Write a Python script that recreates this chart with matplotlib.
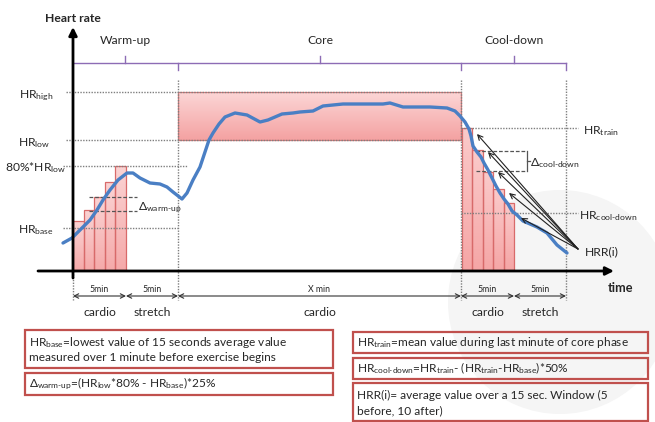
import matplotlib
matplotlib.use('Agg')
import matplotlib.pyplot as plt
import numpy as np
from matplotlib.patches import Rectangle, Circle
from matplotlib.colors import to_rgb

plt.rcParams['font.family'] = ['Lato', 'DejaVu Sans']
plt.rcParams['mathtext.fontset'] = 'custom'
plt.rcParams['mathtext.rm'] = 'Lato'
plt.rcParams['mathtext.it'] = 'Lato:italic'
plt.rcParams['mathtext.bf'] = 'Lato:bold'

# ---------------- data (schematic units, y grows downward) ----------------
curve_x = [63, 72, 80, 90, 97, 103, 110, 118, 127, 133, 140, 150, 160, 167, 173, 182,
           187, 193, 200, 205, 209, 213, 219, 225, 235, 247, 260, 268, 282, 293, 300,
           313, 323, 343, 383, 390, 403, 430, 447, 455, 460, 465, 469, 471, 473, 477,
           481, 484, 488, 492, 496, 500, 504, 508, 512, 517, 523, 530, 537, 542, 547,
           552, 557, 562, 567]
curve_y = [243, 238, 230, 220, 210, 200, 190, 180, 173, 173, 178, 183, 184, 187, 192, 199,
           193, 180, 167, 152, 140, 133, 124, 117, 113, 115, 122, 120, 114, 113, 112,
           111, 106, 104, 104, 103, 107, 107, 108, 111, 116, 122, 129, 136, 146, 152,
           157, 163, 170, 178, 186, 193, 199, 204, 211, 215, 221, 224, 227, 230, 233,
           239, 245, 249, 253]

hr_high, hr_low, hr_80low, hr_base = 92, 140, 166, 228
hr_train, hr_cooldown = 128, 213

t_start, t_wu_cardio, t_core, t_core_end, t_cd_cardio, t_end = 73, 126, 178, 461, 514, 566

warm_bar_tops = [221, 210, 197, 182, 166]
cool_bar_tops = [128, 150, 172, 189, 203]

delta_wu_levels = [197, 211]
delta_cd_levels = [151, 171]

hrr_x = [477, 488, 498, 509, 521]
hrr_y = [134, 152, 172, 193, 218]
hrr_origin = (578, 249)

phase_names = ['Warm-up', 'Core', 'Cool-down']
segment_labels = ['5min', '5min', 'X min', '5min', '5min']
segment_kinds = ['cardio', 'stretch', 'cardio', 'cardio', 'stretch']

# ---------------- figure ----------------
W, H = 655, 422
fig = plt.figure(figsize=(W / 100, H / 100), dpi=100)
ax = fig.add_axes([0, 0, 1, 1])
ax.set_xlim(0, W)
ax.set_ylim(H, 0)
ax.axis('off')

# faint watermark
ax.add_patch(Circle((560, 302), 112, color='#f5f5f5', zorder=0, lw=0))

TEXT = '#262626'
DOT = '#7f7f7f'
PURPLE = '#8d6cb5'
RED = '#c0504d'


def grad_patch(x0, x1, ytop, ybot, ctop, cbot, edge, lw=0.9, z=2):
    rect = Rectangle((x0, ytop), x1 - x0, ybot - ytop, facecolor='none',
                     edgecolor=edge, lw=lw, zorder=z + 0.1)
    ax.add_patch(rect)
    n = 64
    c0, c1 = np.array(to_rgb(ctop)), np.array(to_rgb(cbot))
    g = np.linspace(0, 1, n)[:, None]
    img = (c0[None, :] * (1 - g) + c1[None, :] * g)[:, None, :]
    im = ax.imshow(img, extent=(x0, x1, ybot, ytop), origin='upper',
                   aspect='auto', zorder=z, interpolation='bilinear')
    im.set_clip_path(rect)


# core rectangle
grad_patch(t_core, t_core_end, hr_high, hr_low, '#fcd6d6', '#f4a2a2', '#d87878', lw=0.9)

# warm-up bars
wu_edges = np.linspace(t_start, t_wu_cardio, len(warm_bar_tops) + 1)
for i, top in enumerate(warm_bar_tops):
    grad_patch(wu_edges[i], wu_edges[i + 1], top, 270, '#fbd3d3', '#f5aaaa', '#d86a6a')

# cool-down bars
cd_edges = np.linspace(t_core_end + 0.5, t_cd_cardio, len(cool_bar_tops) + 1)
for i, top in enumerate(cool_bar_tops):
    grad_patch(cd_edges[i], cd_edges[i + 1], top, 270, '#fbcaca', '#f5a6a6', '#d86a6a')

# dotted reference lines
dot = dict(color=DOT, lw=1.0, ls=(0, (1, 1)), zorder=3)
ax.plot([66, t_core_end], [hr_high, hr_high], **dot)
ax.plot([66, t_core_end], [hr_low, hr_low], **dot)
ax.plot([63, 188], [hr_80low, hr_80low], **dot)
ax.plot([63, t_core], [hr_base, hr_base], **dot)
ax.plot([t_core_end, 578], [hr_train, hr_train], **dot)
ax.plot([t_core_end, 578], [hr_cooldown, hr_cooldown], **dot)
ax.plot([t_start, t_start], [271, 300], **dot)
for xv in [t_core, t_core_end, t_end]:
    ax.plot([xv, xv], [80, 300], **dot)

# delta dashed lines
dash = dict(color='#555555', lw=0.9, ls=(0, (3, 1.5)), zorder=4)
for yv in delta_wu_levels:
    ax.plot([89, 137], [yv, yv], **dash)
for yv in delta_cd_levels:
    ax.plot([476, 527], [yv, yv], **dash)
ax.plot([527, 527], [delta_cd_levels[0], delta_cd_levels[1]],
        color='#555555', lw=0.9, zorder=4)
ax.plot([527, 530], [sum(delta_cd_levels) / 2] * 2, color='#555555', lw=0.9, zorder=4)

# heart-rate curve
ax.plot(curve_x, curve_y, color='#4a7fc4', lw=2.4, solid_capstyle='round',
        solid_joinstyle='round', zorder=6)

# HRR arrows
for tx, ty in zip(hrr_x, hrr_y):
    ax.annotate('', xy=(tx, ty), xytext=hrr_origin,
                arrowprops=dict(arrowstyle='->', lw=0.8, color='#222222',
                                mutation_scale=9, shrinkA=0, shrinkB=0), zorder=7)

# axes
ax.annotate('', xy=(73, 27), xytext=(73, 278),
            arrowprops=dict(arrowstyle='-|>', lw=2.0, color='black',
                            mutation_scale=12, shrinkA=0, shrinkB=0), zorder=8)
ax.annotate('', xy=(614, 271), xytext=(38, 271),
            arrowprops=dict(arrowstyle='-|>', lw=2.0, color='black',
                            mutation_scale=12, shrinkA=0, shrinkB=0), zorder=8)
ax.text(73, 18, 'Heart rate', ha='center', va='center', fontsize=8.7,
        fontweight='bold', color=TEXT)
ax.text(620, 288, 'time', ha='center', va='center', fontsize=9.2,
        fontweight='bold', color=TEXT)

# phase brace
ax.plot([t_start, t_end], [63, 63], color=PURPLE, lw=1.0, zorder=3)
for xv in [125, 320, 514]:
    ax.plot([xv, xv], [63, 56], color=PURPLE, lw=1.0, zorder=3)
for xv in [t_core, t_core_end, t_end]:
    ax.plot([xv, xv], [63, 70], color=PURPLE, lw=1.0, zorder=3)
for name, xc in zip(phase_names, [125, 320, 514]):
    ax.text(xc, 40, name, ha='center', va='center', fontsize=8.7, color=TEXT)

# left labels
ax.text(53, 96, r'HR$_{\text{high}}$', ha='right', va='center', fontsize=8.7, color=TEXT)
ax.text(50, 143, r'HR$_{\text{low}}$', ha='right', va='center', fontsize=8.7, color=TEXT)
ax.text(66, 168, r'80%*HR$_{\text{low}}$', ha='right', va='center', fontsize=8.7, color=TEXT)
ax.text(54, 230, r'HR$_{\text{base}}$', ha='right', va='center', fontsize=8.7, color=TEXT)

# right labels
ax.text(583, 131, r'HR$_{\text{train}}$', ha='left', va='center', fontsize=8.7, color=TEXT)
ax.text(579, 216, r'HR$_{\text{cool-down}}$', ha='left', va='center', fontsize=8.7, color=TEXT)
ax.text(585, 252, 'HRR(i)', ha='left', va='center', fontsize=8.7, color=TEXT)
ax.text(138, 208, r'$\Delta_{\text{warm-up}}$', ha='left', va='center', fontsize=8.7, color=TEXT)
ax.text(530, 163, r'$\Delta_{\text{cool-down}}$', ha='left', va='center', fontsize=8.7, color=TEXT)

# timeline
bounds = [t_start, t_wu_cardio, t_core, t_core_end, t_cd_cardio, t_end]
for i in range(len(bounds) - 1):
    a, b = bounds[i], bounds[i + 1]
    ax.annotate('', xy=(b, 296), xytext=(a, 296),
                arrowprops=dict(arrowstyle='<->', lw=0.8, color='#333333',
                                mutation_scale=8, shrinkA=0, shrinkB=0), zorder=5)
    ax.text((a + b) / 2, 289, segment_labels[i], ha='center', va='center',
            fontsize=6.3, color=TEXT)
    ax.text((a + b) / 2, 313, segment_kinds[i], ha='center', va='center',
            fontsize=8.7, color=TEXT)

# formula boxes
boxes = [
    (25, 330, 333, 368, [r'HR$_{\text{base}}$=lowest value of 15 seconds average value',
                         'measured over 1 minute before exercise begins']),
    (25, 373, 333, 395, [r'$\Delta_{\text{warm-up}}$=(HR$_{\text{low}}$*80% - HR$_{\text{base}}$)*25%']),
    (353, 332, 648, 353, [r'HR$_{\text{train}}$=mean value during last minute of core phase']),
    (353, 358, 648, 379, [r'HR$_{\text{cool-down}}$=HR$_{\text{train}}$- (HR$_{\text{train}}$-HR$_{\text{base}}$)*50%']),
    (353, 383, 648, 421, ['HRR(i)= average value over a 15 sec. Window (5',
                          'before, 10 after)']),
]
for x0, y0, x1, y1, lines in boxes:
    ax.add_patch(Rectangle((x0, y0), x1 - x0, y1 - y0, facecolor='none',
                           edgecolor=RED, lw=1.6, zorder=5))
    n = len(lines)
    if n == 1:
        ys = [(y0 + y1) / 2]
    else:
        ys = [y0 + 12.5, y0 + 27.5]
    for t, yy in zip(lines, ys):
        ax.text(x0 + 4, yy, t, ha='left', va='center', fontsize=8.6, color=TEXT)

fig.savefig('out.png', dpi=100)
